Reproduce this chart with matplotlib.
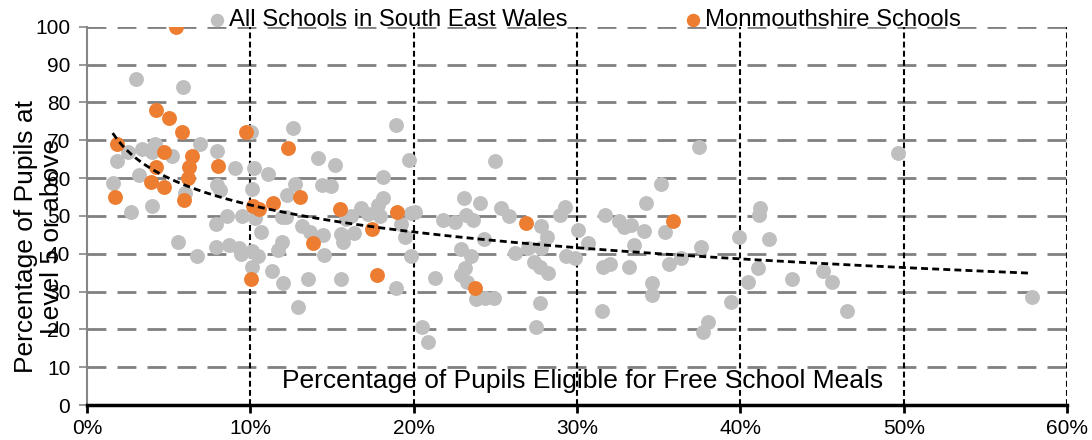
import matplotlib
matplotlib.use("Agg")
import matplotlib.pyplot as plt
import numpy as np

plt.rcParams['font.family'] = ['Liberation Sans', 'DejaVu Sans']

# % eligible for free school meals vs % at level 5 or above
all_x = [3.0, 5.85, 1.81, 1.57, 2.53, 3.34, 4.16, 3.95, 5.18, 3.2, 2.67, 3.95, 5.99, 6.91,
         7.93, 9.09, 10.2, 7.93, 8.13, 10.12, 5.59, 6.71, 7.87, 8.54, 9.46, 7.89, 8.7, 9.32,
         9.42, 10.07, 10.07,
         10.03, 12.62, 18.94, 11.09, 14.15, 15.17, 19.71, 18.12, 12.72, 12.27, 14.39, 14.92,
         18.12, 17.82, 16.8, 17.2, 17.92, 16.19, 15.88, 11.91, 12.21, 10.27, 10.64, 13.17,
         13.64, 14.45, 15.58, 16.35, 15.68, 11.91, 11.7, 14.52, 19.24, 19.49, 19.86, 10.48,
         11.34, 11.97, 13.54, 15.54, 12.89, 18.94, 19.86,
         24.95, 20.1, 23.06, 24.08, 21.8, 22.55, 23.22, 23.63, 25.36, 25.81, 27.8, 28.17,
         27.8, 28.93, 29.24, 24.28, 22.87, 23.49, 23.12, 22.87, 23.28, 23.83, 24.34, 24.89,
         21.28, 26.18, 27.0, 27.36, 27.71, 28.21, 27.71, 27.5, 20.51, 20.88, 29.34, 29.85,
         30.05,
         37.49, 35.15, 34.23, 31.72, 32.6, 32.9, 33.31, 34.13, 35.41, 30.66, 33.46, 31.58,
         32.03, 33.21, 35.66, 36.37, 37.6, 34.58, 34.58, 31.52, 39.43, 38.0, 37.7, 39.9,
         49.68, 41.22, 41.16, 41.77, 41.06, 40.45, 43.14, 45.04, 45.59, 46.51, 57.84]
all_y = [86.2, 84.1, 64.6, 58.6, 66.8, 67.6, 69.0, 66.8, 65.7, 60.7, 51.1, 52.5, 56.0, 69.0,
         67.2, 62.6, 62.7, 58.2, 56.9, 57.1, 43.1, 39.5, 47.8, 50.0, 50.0, 41.9, 42.2, 41.5,
         39.9, 40.6, 36.4,
         72.3, 73.2, 73.9, 61.0, 65.4, 63.5, 64.8, 60.2, 58.4, 55.4, 58.2, 58.0,
         54.7, 52.9, 52.2, 50.4, 50.0, 50.0, 49.2, 49.8, 49.8, 49.4, 45.7, 47.4,
         45.8, 45.0, 45.2, 45.4, 43.2, 43.2, 41.0, 39.7, 47.8, 44.3, 50.7, 39.5,
         35.4, 32.2, 33.3, 33.3, 26.0, 31.0, 39.5,
         64.4, 51.0, 54.7, 53.3, 48.8, 48.3, 50.3, 48.9, 52.0, 50.0, 47.4, 44.5,
         41.4, 50.3, 52.3, 43.9, 41.2, 39.5, 36.1, 34.5, 32.6, 28.0, 28.4, 28.2,
         33.5, 40.3, 41.4, 37.9, 36.6, 35.0, 26.9, 20.5, 20.7, 16.6, 39.5, 38.8,
         46.3,
         68.1, 58.4, 53.4, 50.1, 48.7, 47.1, 47.6, 46.1, 45.8, 42.8, 42.3, 36.6,
         37.2, 36.6, 37.2, 38.8, 41.9, 32.2, 29.1, 24.9, 27.3, 21.9, 19.2, 44.5,
         66.7, 52.0, 50.1, 43.9, 36.3, 32.6, 33.3, 35.5, 32.5, 24.9, 28.5]

mon_x = [5.45, 1.84, 1.71, 4.2, 5.04, 5.79, 4.71, 6.44, 6.24, 4.2, 6.16, 3.9, 4.71, 5.95,
         8.01, 9.75, 10.17, 10.54, 10.01, 12.31, 11.4, 13.03, 13.83, 15.49, 17.47, 17.78,
         18.96, 26.9, 23.73, 35.9]
mon_y = [100.0, 69.0, 55.1, 77.9, 75.8, 72.1, 66.8, 65.9, 63.0, 62.9, 60.0, 58.9, 57.6, 54.2,
         63.3, 72.1, 52.5, 51.8, 33.3, 67.9, 53.4, 55.1, 42.8, 51.8, 46.6, 34.5,
         51.0, 48.1, 31.0, 48.7]

x_ticks = [0, 10, 20, 30, 40, 50, 60]
y_ticks = [0, 10, 20, 30, 40, 50, 60, 70, 80, 90, 100]

fig = plt.figure(figsize=(10.92, 4.40), dpi=100)
ax = fig.add_axes([0.0797, 0.0795, 0.8974, 0.8598])

ax.set_xlim(0, 60)
ax.set_ylim(0, 100)

# gridlines
for yv in y_ticks[1:]:
    ax.axhline(yv, color='#808080', lw=2.0, dashes=(6.8, 4.0), zorder=1)
for xv in x_ticks[1:]:
    ax.axvline(xv, color='black', lw=1.5, dashes=(2.8, 1.6), zorder=1)

ax.scatter(all_x, all_y, s=115, color='#BFBFBF', linewidths=0, zorder=3,
           label='All Schools in South East Wales')
ax.scatter(mon_x, mon_y, s=115, color='#ED7D31', linewidths=0, zorder=4,
           label='Monmouthshire Schools')

# logarithmic trendline over all schools
fx = np.array(all_x + mon_x)
fy = np.array(all_y + mon_y)
b, a = np.polyfit(np.log(fx), fy, 1)
tx = np.linspace(fx.min(), fx.max(), 200)
ax.plot(tx, a + b * np.log(tx), color='black', lw=2.0, dashes=(2.5, 1.5), zorder=5)

ax.set_xticks(x_ticks)
ax.set_xticklabels([f'{v}%' for v in x_ticks])
ax.set_yticks(y_ticks)
ax.tick_params(axis='both', labelsize=15, direction='out', length=6)
ax.tick_params(axis='y', color='#868686', width=1.2, pad=6)
ax.tick_params(axis='x', color='black', width=2, pad=4)

for s in ['top', 'right']:
    ax.spines[s].set_visible(False)
ax.spines['left'].set_color('#868686')
ax.spines['left'].set_linewidth(1.5)
ax.spines['bottom'].set_color('black')
ax.spines['bottom'].set_linewidth(2.5)
ax.spines['bottom'].set_zorder(6)

ax.text(0.5056, 0.063, 'Percentage of Pupils Eligible for Free School Meals',
        transform=ax.transAxes, ha='center', va='center', fontsize=19)
fig.text(0.036, 0.462, 'Percentage of Pupils at\nLevel 5 or above', rotation=90,
         ha='center', va='center', multialignment='center', fontsize=19, linespacing=1.1)

fig.legend(loc='center left', bbox_to_anchor=(0.19, 0.955), bbox_transform=fig.transFigure,
           ncol=2, frameon=False, fontsize=17.2, handlelength=0.8, handletextpad=0.1,
           columnspacing=4.85, borderpad=0, borderaxespad=0, markerscale=0.9)

fig.savefig('out.png', dpi=100)
